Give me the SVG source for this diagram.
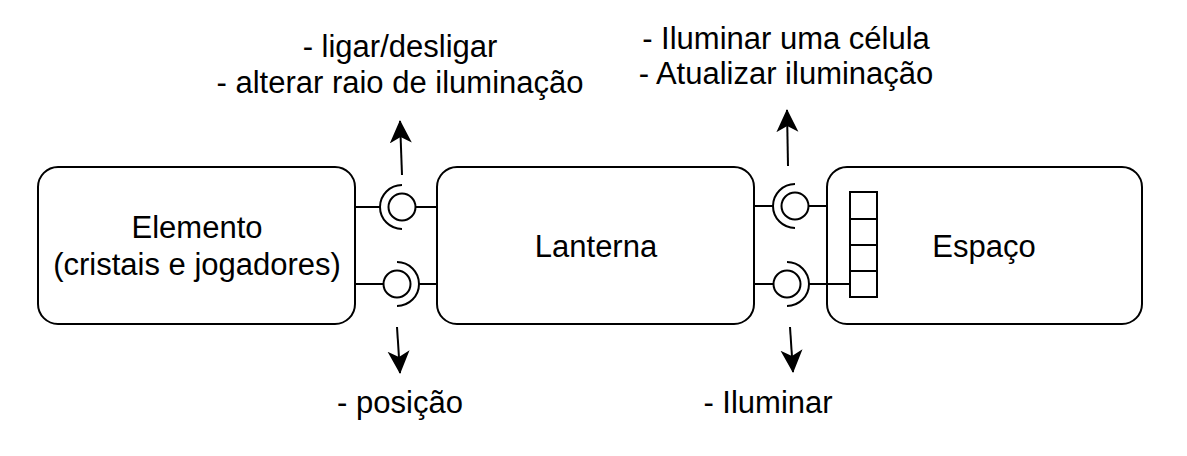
<svg xmlns="http://www.w3.org/2000/svg" width="1187" height="456" viewBox="0 0 1187 456">
<defs>
<style>
.box{fill:#fff;stroke:#000;stroke-width:2}
.ln{fill:none;stroke:#000;stroke-width:2}
.t{font-family:"Liberation Sans",Arial,sans-serif;font-size:31px;fill:#000;text-anchor:middle}
</style>
<marker id="arr" viewBox="0 0 24 24" refX="22" refY="12" markerWidth="24" markerHeight="24" markerUnits="userSpaceOnUse" orient="auto">
<path d="M0,1 L23,12 L0,23 L6,12 Z" fill="#000"/>
</marker>
</defs>
<rect width="1187" height="456" fill="#fff"/>
<g id="elemento">
<rect class="box" x="38" y="167" width="317" height="157" rx="20"/>
<text class="t" x="197" y="238">Elemento</text>
<text class="t" x="197" y="275">(cristais e jogadores)</text>
</g>
<g id="lanterna">
<rect class="box" x="437" y="167" width="317" height="157" rx="20"/>
<text class="t" x="596" y="257">Lanterna</text>
</g>
<g id="espaco">
<rect class="box" x="827" y="167" width="315" height="157" rx="20"/>
<text class="t" x="984" y="257">Espaço</text>
<g id="porta">
<rect class="ln" x="850" y="192" width="27" height="105"/>
<line class="ln" x1="850" y1="219" x2="877" y2="219"/>
<line class="ln" x1="850" y1="245" x2="877" y2="245"/>
<line class="ln" x1="850" y1="271" x2="877" y2="271"/>
</g>
</g>
<g id="connectors">
<line class="ln" x1="355" y1="207" x2="380" y2="207"/>
<path class="ln" d="M402,185 A22,22 0 0 0 402,229"/>
<circle class="ln" cx="402" cy="207" r="13.5"/>
<line class="ln" x1="415.5" y1="207" x2="437" y2="207"/>
<line class="ln" x1="355" y1="284" x2="383" y2="284"/>
<circle class="ln" cx="397" cy="284" r="13.5"/>
<path class="ln" d="M397,262 A22,22 0 0 1 397,306"/>
<line class="ln" x1="419" y1="284" x2="437" y2="284"/>
<line class="ln" x1="754" y1="206" x2="773" y2="206"/>
<path class="ln" d="M795,184 A22,22 0 0 0 795,228"/>
<circle class="ln" cx="795" cy="206" r="13.5"/>
<line class="ln" x1="808.5" y1="206" x2="827" y2="206"/>
<line class="ln" x1="754" y1="284" x2="773" y2="284"/>
<circle class="ln" cx="787" cy="284" r="13.5"/>
<path class="ln" d="M787,262 A22,22 0 0 1 787,306"/>
<line class="ln" x1="809" y1="284" x2="850" y2="284"/>
<line class="ln" x1="402" y1="175" x2="400" y2="121" marker-end="url(#arr)"/>
<line class="ln" x1="397" y1="327" x2="400" y2="373" marker-end="url(#arr)"/>
<line class="ln" x1="788" y1="166" x2="787" y2="110" marker-end="url(#arr)"/>
<line class="ln" x1="790" y1="327" x2="793" y2="372" marker-end="url(#arr)"/>
</g>
<g id="labels">
<text class="t" x="400" y="57">- ligar/desligar</text>
<text class="t" x="400" y="93">- alterar raio de iluminação</text>
<text class="t" x="786" y="49">- Iluminar uma célula</text>
<text class="t" x="786" y="84">- Atualizar iluminação</text>
<text class="t" x="400" y="413">- posição</text>
<text class="t" x="768" y="413">- Iluminar</text>
</g>
</svg>
